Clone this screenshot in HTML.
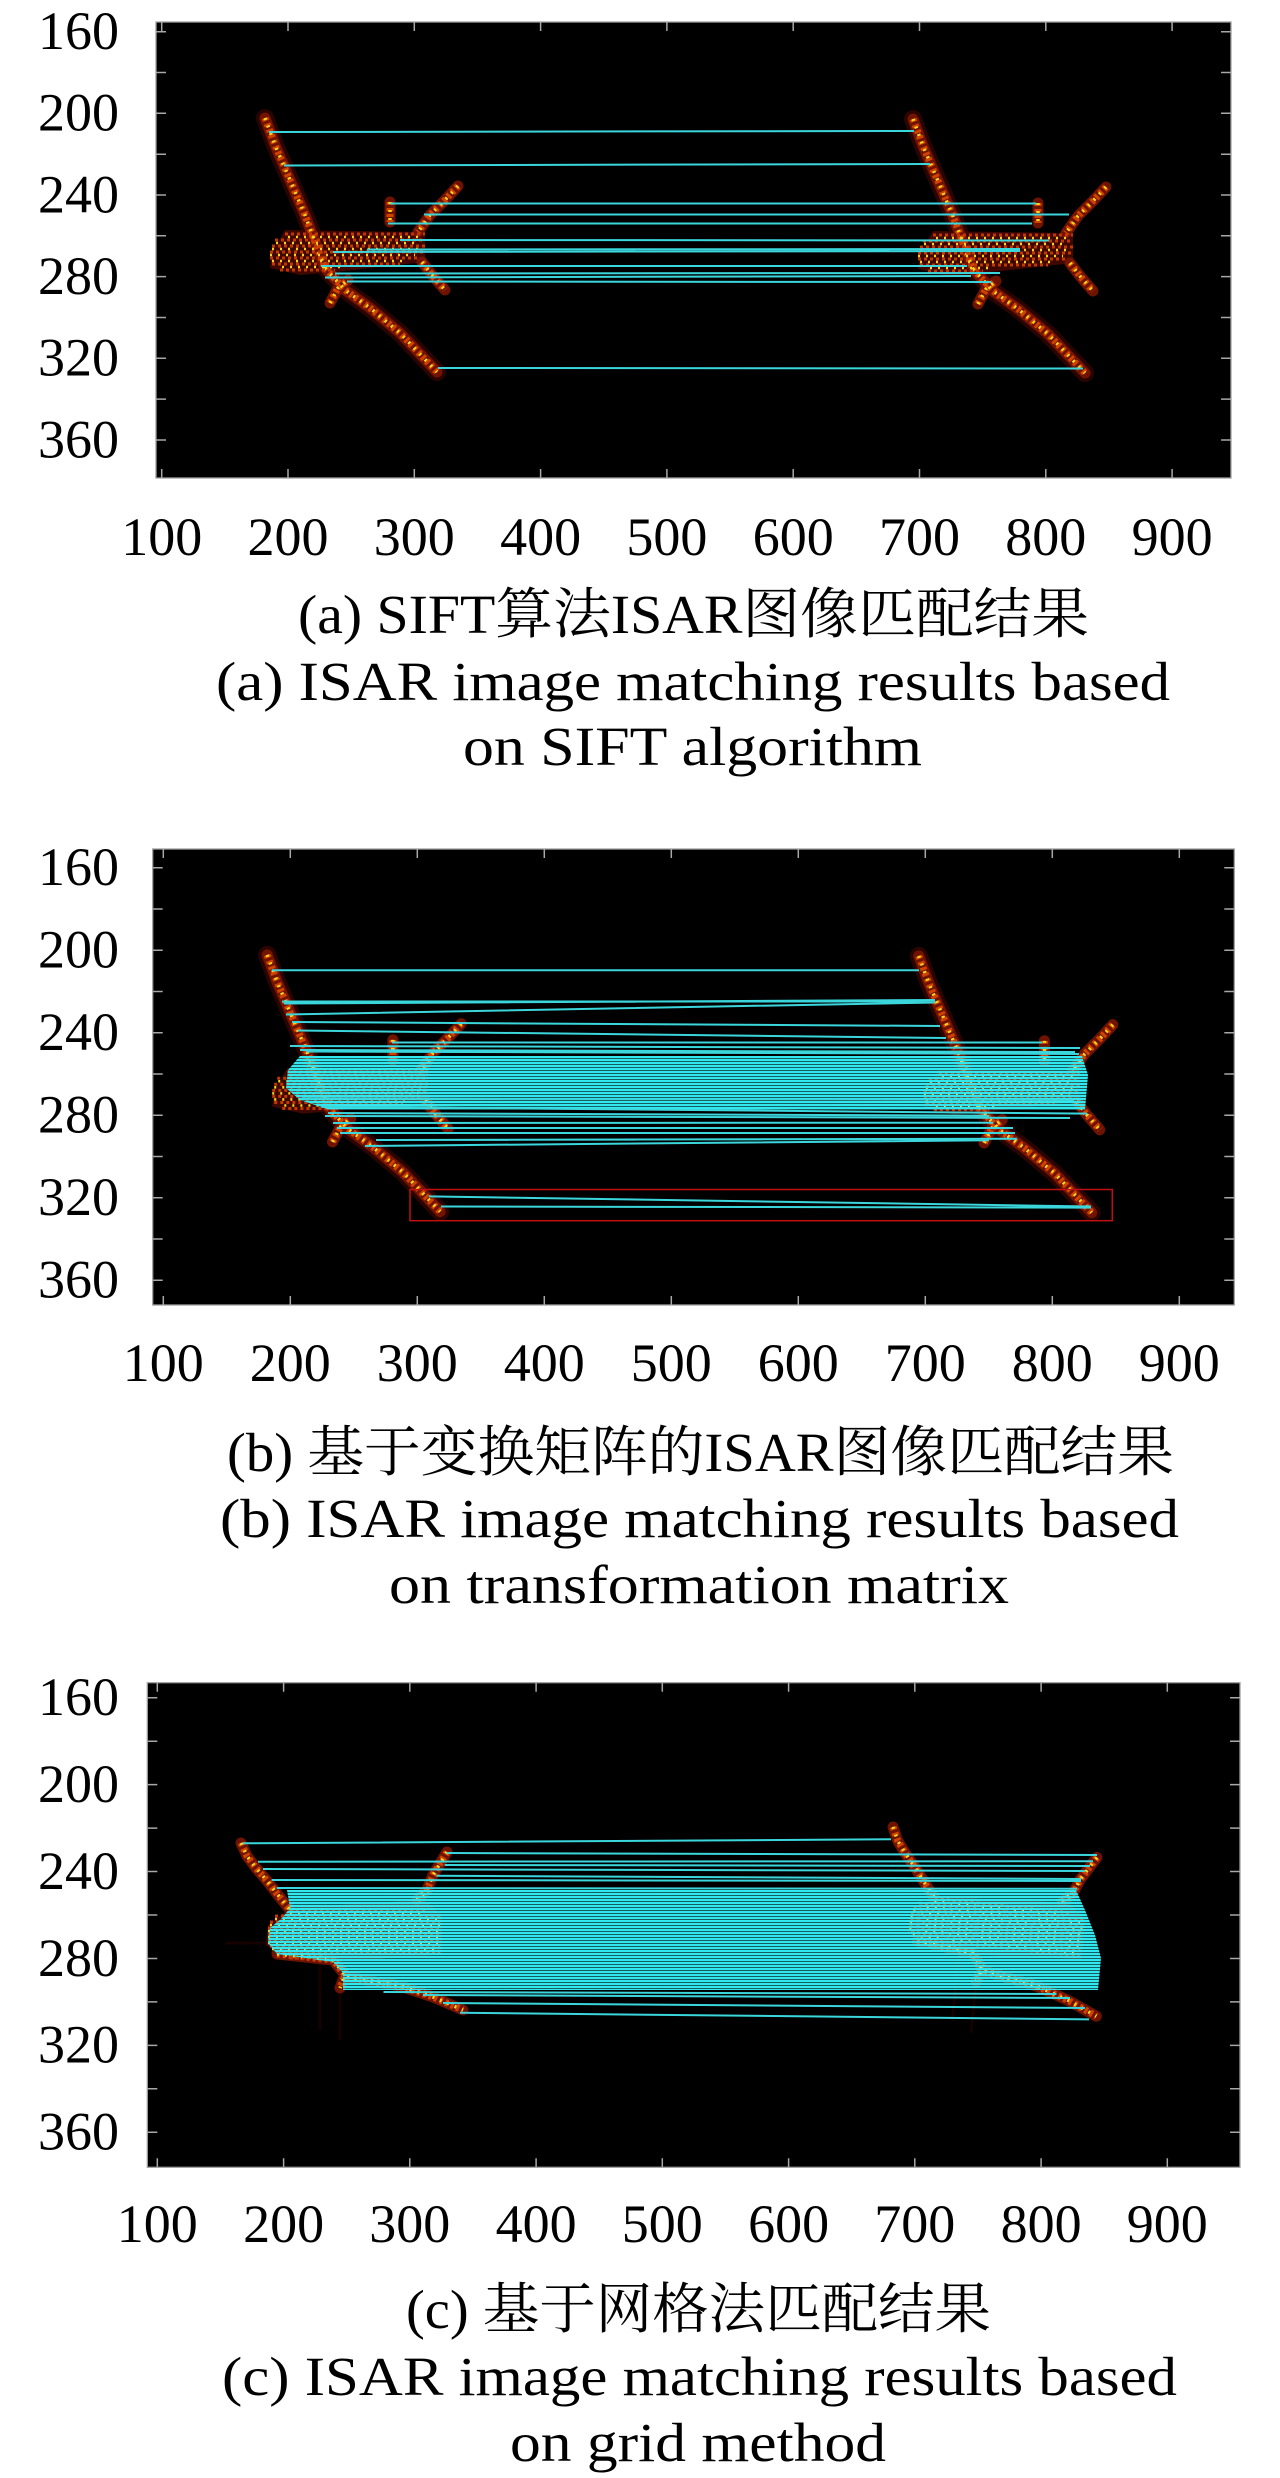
<!DOCTYPE html>
<html>
<head>
<meta charset="utf-8">
<style>
  html, body { margin:0; padding:0; background:#fff; }
  svg { display:block; }
  .tl { font-family:"Liberation Serif","Noto Serif CJK SC",serif; font-size:54px; fill:#000; }
  .cap { font-family:"Liberation Serif","Noto Serif CJK SC",serif; font-size:55px; fill:#000; }
  .w0 { fill:none; stroke:#3a0600; stroke-width:18; stroke-linecap:round; stroke-linejoin:round; opacity:.7; }
  .w1 { fill:none; stroke:#7a1500; stroke-width:11; stroke-linecap:round; stroke-linejoin:round; opacity:.9; }
  .w2 { fill:none; stroke:#d04200; stroke-width:7; stroke-dasharray:3 3; }
  .w3 { fill:none; stroke:#ffd820; stroke-width:3.5; stroke-dasharray:2 6; }
  .f2 { fill:none; stroke:#c03800; stroke-width:3; stroke-dasharray:3 3; }
  .f3 { fill:none; stroke:#ffd020; stroke-width:2.5; stroke-dasharray:2 6; }
  .cy { fill:none; stroke:#3ad6dc; stroke-width:2; }
  .frame { fill:#000; stroke:#a0a0a0; stroke-width:1.3; }
  .tk { fill:none; stroke:#a8a8a8; stroke-width:1.5; }
</style>
</head>
<body>
<svg width="1280" height="2478" viewBox="0 0 1280 2478" xmlns="http://www.w3.org/2000/svg">
<defs>
  <pattern id="stripes" width="8" height="3" patternUnits="userSpaceOnUse">
    <rect width="8" height="2.4" fill="#30e8ee"/>
  </pattern>
  <g id="planeA">
    <path d="M285,230 L425,232 L425,262 L335,272 L300,275 L270,268 L272,252 Z" fill="#3e0700"/>
    <path class="w0" d="M265,118 L275,145 L290,180 L305,215 L318,250 L325,268 M325,268 L345,290 L370,308 L400,333 L437,372"/>
    <path class="w1" d="M265,118 L275,145 L290,180 L305,215 L318,250 L325,268 M325,268 L345,290 L370,308 L400,333 L437,372 M458,186 L445,200 L430,215 L418,232 M422,262 L432,275 L445,290 M390,202 L390,222 M330,303 L338,288 L348,280"/>
    <path class="w2" d="M265,118 L275,145 L290,180 L305,215 L318,250 L325,268 M325,268 L345,290 L370,308 L400,333 L437,372 M458,186 L445,200 L430,215 L418,232 M422,262 L432,275 L445,290 M390,202 L390,222 M330,303 L338,288 L348,280"/>
    <path class="w3" d="M265,118 L275,145 L290,180 L305,215 L318,250 L325,268 M325,268 L345,290 L370,308 L400,333 L437,372 M458,186 L445,200 L430,215 L418,232 M422,262 L432,275 L445,290 M390,202 L390,222 M330,303 L338,288 L348,280"/>
    <path class="f2" d="M285,234 H425 M275,240 H425 M272,246 H425 M270,252 H425 M270,258 H420 M272,264 H400 M280,270 H335"/>
    <path class="f3" d="M288,237 H420 M276,243 H420 M272,249 H418 M270,255 H415 M272,261 H405 M282,267 H340"/>
  </g>
  <g id="planeC">
    <path d="M290,1908 L424,1900 L442,1915 L442,1955 L333,1962 L285,1958 L266,1945 L268,1925 Z" fill="#4a0800"/>
    <path d="M320,1962 L320,2030 M340,1990 L340,2040 M268,1943 L225,1943" stroke="#3a0500" stroke-width="3" opacity=".35"/>
    <path class="w1" d="M241,1843 L247,1856 L256,1868 L268,1882 L278,1895 L290,1910 M447,1852 L433,1875 L427,1890 L417,1900 M277,1954 L333,1960 L345,1975 L340,1988 M347,1977 L375,1982 L400,1986 L433,1997 L463,2010"/>
    <path class="w2" d="M241,1843 L247,1856 L256,1868 L268,1882 L278,1895 L290,1910 M447,1852 L433,1875 L427,1890 L417,1900 M277,1954 L333,1960 L345,1975 L340,1988 M347,1977 L375,1982 L400,1986 L433,1997 L463,2010"/>
    <path class="w3" d="M241,1843 L247,1856 L256,1868 L268,1882 L278,1895 L290,1910 M447,1852 L433,1875 L427,1890 L417,1900 M277,1954 L333,1960 L345,1975 L340,1988 M347,1977 L375,1982 L400,1986 L433,1997 L463,2010"/>
    <path class="f2" d="M290,1910 H425 M275,1916 H440 M270,1922 H440 M268,1928 H440 M268,1934 H440 M268,1940 H440 M270,1946 H440 M276,1952 H440 M290,1958 H335"/>
    <path class="f3" d="M290,1913 H425 M275,1919 H440 M270,1925 H440 M268,1931 H440 M268,1937 H440 M268,1943 H440 M272,1949 H440"/>
  </g>
</defs>

<rect width="1280" height="2478" fill="#fff"/>

<!-- ================= PANEL A ================= -->
<rect class="frame" x="156" y="22" width="1075" height="456"/>
<use href="#planeA"/>
<use href="#planeA" transform="translate(648,1)"/>
<path class="cy" d="M269,132 L914,131 M284,165.5 L930,164 M390,203.5 L1036,203.5 M424,214.5 L1069,214.5 M388,223.5 L1032,223.5 M400,240 L1049,240.5 M367,249.5 L1020,249 M333,252 L1020,251 M321,266 L967,266 M335,273.5 L1000,273 M325,277.5 L971,276 M347,281.5 L991,282 M438,368 L1083,368.5"/>
<path class="tk" d="M156,31.7 h10 M156,72.5 h10 M156,113.3 h10 M156,154.2 h10 M156,195 h10 M156,235.8 h10 M156,276.6 h10 M156,317.5 h10 M156,358.3 h10 M156,399.1 h10 M156,440 h10
M1231,31.7 h-10 M1231,72.5 h-10 M1231,113.3 h-10 M1231,154.2 h-10 M1231,195 h-10 M1231,235.8 h-10 M1231,276.6 h-10 M1231,317.5 h-10 M1231,358.3 h-10 M1231,399.1 h-10 M1231,440 h-10
M161.7,22 v9 M288,22 v9 M414.3,22 v9 M540.6,22 v9 M666.9,22 v9 M793.2,22 v9 M919.5,22 v9 M1045.8,22 v9 M1172.1,22 v9
M161.7,478 v-9 M288,478 v-9 M414.3,478 v-9 M540.6,478 v-9 M666.9,478 v-9 M793.2,478 v-9 M919.5,478 v-9 M1045.8,478 v-9 M1172.1,478 v-9"/>
<g class="tl" text-anchor="end">
  <text x="119" y="49">160</text>
  <text x="119" y="130.6">200</text>
  <text x="119" y="212.3">240</text>
  <text x="119" y="294">280</text>
  <text x="119" y="375.6">320</text>
  <text x="119" y="457.3">360</text>
</g>
<g class="tl" text-anchor="middle">
  <text x="161.7" y="555">100</text>
  <text x="288" y="555">200</text>
  <text x="414.3" y="555">300</text>
  <text x="540.6" y="555">400</text>
  <text x="666.9" y="555">500</text>
  <text x="793.2" y="555">600</text>
  <text x="919.5" y="555">700</text>
  <text x="1045.8" y="555">800</text>
  <text x="1172.1" y="555">900</text>
</g>
<g class="cap">
  <text x="298" y="633" textLength="791" lengthAdjust="spacingAndGlyphs">(a) SIFT算法ISAR图像匹配结果</text>
  <text x="216" y="700" textLength="954" lengthAdjust="spacingAndGlyphs">(a) ISAR image matching results based</text>
  <text x="463" y="765" textLength="459" lengthAdjust="spacingAndGlyphs">on SIFT algorithm</text>
</g>

<!-- ================= PANEL B ================= -->
<rect class="frame" x="152.7" y="849" width="1081.6" height="456"/>
<g transform="matrix(1.00554,0,0,1.01068,0.704,835.66)">
  <use href="#planeA"/>
  <use href="#planeA" transform="translate(648,1)"/>
</g>
<path d="M300,1056 L1082,1056 L1088,1075 L1085,1110 L330,1110 L300,1100 L286,1088 L288,1070 Z" fill="url(#stripes)"/>
<path class="cy" d="M272,970.3 L919,970.3 M282,1001.5 L935,1001.5 M284,1003.5 L935,1000 M286,1014.5 L935,1002.5 M292,1022 L940,1026 M298,1030.5 L946,1038 M392,1042.5 L1042,1042.5 M290,1046 L1080,1048 M300,1050 L1075,1052 M306,1051.5 L1079,1054 M302,1098.6 L1074,1100 M321,1106.7 L1087,1113.6 M325,1116 L1070,1118 M328,1113 L989,1115.7 M333,1123 L993,1122.7 M337,1128 L1013,1128 M340,1133 L1015,1133 M376,1140 L1017,1138.7 M365,1146 L989,1140.3 M429,1196.4 L1091,1206.5 M441,1206.5 L1091,1207.6"/>
<rect x="410" y="1189.5" width="702.3" height="31.2" fill="none" stroke="#c01010" stroke-width="1.5"/>
<path class="tk" d="M152.7,867.7 h10 M152.7,909 h10 M152.7,950.2 h10 M152.7,991.5 h10 M152.7,1032.7 h10 M152.7,1074 h10 M152.7,1115.3 h10 M152.7,1156.5 h10 M152.7,1197.8 h10 M152.7,1239 h10 M152.7,1280.3 h10
M1234.3,867.7 h-10 M1234.3,909 h-10 M1234.3,950.2 h-10 M1234.3,991.5 h-10 M1234.3,1032.7 h-10 M1234.3,1074 h-10 M1234.3,1115.3 h-10 M1234.3,1156.5 h-10 M1234.3,1197.8 h-10 M1234.3,1239 h-10 M1234.3,1280.3 h-10
M163.3,849 v9 M290.3,849 v9 M417.3,849 v9 M544.3,849 v9 M671.3,849 v9 M798.3,849 v9 M925.3,849 v9 M1052.3,849 v9 M1179.3,849 v9
M163.3,1305 v-9 M290.3,1305 v-9 M417.3,1305 v-9 M544.3,1305 v-9 M671.3,1305 v-9 M798.3,1305 v-9 M925.3,1305 v-9 M1052.3,1305 v-9 M1179.3,1305 v-9"/>
<g class="tl" text-anchor="end">
  <text x="119" y="885">160</text>
  <text x="119" y="967.5">200</text>
  <text x="119" y="1050">240</text>
  <text x="119" y="1132.6">280</text>
  <text x="119" y="1215.1">320</text>
  <text x="119" y="1297.6">360</text>
</g>
<g class="tl" text-anchor="middle">
  <text x="163.3" y="1381">100</text>
  <text x="290.3" y="1381">200</text>
  <text x="417.3" y="1381">300</text>
  <text x="544.3" y="1381">400</text>
  <text x="671.3" y="1381">500</text>
  <text x="798.3" y="1381">600</text>
  <text x="925.3" y="1381">700</text>
  <text x="1052.3" y="1381">800</text>
  <text x="1179.3" y="1381">900</text>
</g>
<g class="cap">
  <text x="227" y="1471" textLength="947" lengthAdjust="spacingAndGlyphs">(b) 基于变换矩阵的ISAR图像匹配结果</text>
  <text x="220" y="1537" textLength="959" lengthAdjust="spacingAndGlyphs">(b) ISAR image matching results based</text>
  <text x="389" y="1603" textLength="620" lengthAdjust="spacingAndGlyphs">on transformation matrix</text>
</g>

<!-- ================= PANEL C ================= -->
<rect class="frame" x="147.3" y="1682.7" width="1092.7" height="484.6"/>
<use href="#planeC"/>
<use href="#planeC" transform="translate(995.3,1925.2) rotate(6) translate(-353,-1930)"/>
<path d="M287,1890 L1076,1890 L1085,1910 L1095,1935 L1101,1958 L1098,1990 L343,1990 L343,1973 L333,1962 L277,1954 L268,1943 L270,1928 L282,1918 L290,1908 Z" fill="url(#stripes)"/>
<path class="cy" d="M243,1843.3 L891,1839.3 M446.7,1853 L1097,1855 M258,1861.7 L1093,1861.2 M444.6,1865 L1090,1866 M263,1869 L1085,1871 M436.5,1875.7 L1081,1879 M271.7,1880 L1081,1881 M276.7,1888 L1077,1888.8 M423,1995 L1070,1998 M443,2003 L1085,2008 M460,2012.7 L1089,2019.4 M383.5,1992 L1056.5,1994"/>
<path class="tk" d="M147.3,1697.7 h10 M147.3,1741.2 h10 M147.3,1784.6 h10 M147.3,1828.1 h10 M147.3,1871.5 h10 M147.3,1915 h10 M147.3,1958.5 h10 M147.3,2001.9 h10 M147.3,2045.4 h10 M147.3,2088.8 h10 M147.3,2132.3 h10
M1240,1697.7 h-10 M1240,1741.2 h-10 M1240,1784.6 h-10 M1240,1828.1 h-10 M1240,1871.5 h-10 M1240,1915 h-10 M1240,1958.5 h-10 M1240,2001.9 h-10 M1240,2045.4 h-10 M1240,2088.8 h-10 M1240,2132.3 h-10
M157.3,1682.7 v9 M283.6,1682.7 v9 M409.8,1682.7 v9 M536.1,1682.7 v9 M662.3,1682.7 v9 M788.6,1682.7 v9 M914.8,1682.7 v9 M1041.1,1682.7 v9 M1167.3,1682.7 v9
M157.3,2167.3 v-9 M283.6,2167.3 v-9 M409.8,2167.3 v-9 M536.1,2167.3 v-9 M662.3,2167.3 v-9 M788.6,2167.3 v-9 M914.8,2167.3 v-9 M1041.1,2167.3 v-9 M1167.3,2167.3 v-9"/>
<g class="tl" text-anchor="end">
  <text x="119" y="1715">160</text>
  <text x="119" y="1801.9">200</text>
  <text x="119" y="1888.8">240</text>
  <text x="119" y="1975.8">280</text>
  <text x="119" y="2062.7">320</text>
  <text x="119" y="2149.6">360</text>
</g>
<g class="tl" text-anchor="middle">
  <text x="157.3" y="2242">100</text>
  <text x="283.6" y="2242">200</text>
  <text x="409.8" y="2242">300</text>
  <text x="536.1" y="2242">400</text>
  <text x="662.3" y="2242">500</text>
  <text x="788.6" y="2242">600</text>
  <text x="914.8" y="2242">700</text>
  <text x="1041.1" y="2242">800</text>
  <text x="1167.3" y="2242">900</text>
</g>
<g class="cap">
  <text x="406" y="2328" textLength="585" lengthAdjust="spacingAndGlyphs">(c) 基于网格法匹配结果</text>
  <text x="222" y="2395" textLength="955" lengthAdjust="spacingAndGlyphs">(c) ISAR image matching results based</text>
  <text x="510" y="2461" textLength="376" lengthAdjust="spacingAndGlyphs">on grid method</text>
</g>
</svg>
</body>
</html>
